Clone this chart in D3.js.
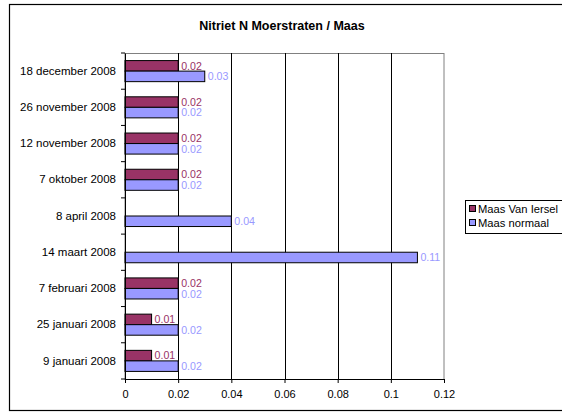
<!DOCTYPE html>
<html><head><meta charset="utf-8">
<script src="https://cdn.jsdelivr.net/npm/d3@7"></script>
<style>body{margin:0;background:#fff}svg{display:block}text{font-family:"Liberation Sans",Arial,sans-serif}</style>
</head><body><svg id="c" width="562" height="412"></svg>
<script>
const categories = ["18 december 2008","26 november 2008","12 november 2008","7 oktober 2008","8 april 2008","14 maart 2008","7 februari 2008","25 januari 2008","9 januari 2008"];
const vanIersel = [0.02,0.02,0.02,0.02,null,null,0.02,0.01,0.01];
const normaal = [0.03,0.02,0.02,0.02,0.04,0.11,0.02,0.02,0.02];
const seriesNames = ["Maas Van Iersel","Maas normaal"];
const xTicks = [0,0.02,0.04,0.06,0.08,0.1,0.12];
const title = "Nitriet N Moerstraten / Maas";

const colors = ["#993366","#9999FF"];
const labelColors = ["#993366","#9999FF"];
const svg = d3.select("#c");
svg.append("rect").attr("x",9.5).attr("y",4.5).attr("width",600).attr("height",406).attr("fill","#fff").attr("stroke","#000").attr("stroke-width",1.2);
svg.append("text").attr("x",282).attr("y",30).attr("text-anchor","middle").attr("font-size",12.5).attr("font-weight","bold").text(title);

const L=125,R=444,T=53,B=379;
const x=d3.scaleLinear().domain([0,0.12]).range([L,R]);
const y=d3.scaleBand().domain(categories).range([T,B]);
const inner=d3.scaleBand().domain([0,1]).range([0,y.bandwidth()]).paddingOuter(0.72).paddingInner(0);

const g=svg.append("g");
g.append("rect").attr("x",L).attr("y",T+0.5).attr("width",R-L).attr("height",B-T).attr("fill","none").attr("stroke","#808080");
g.selectAll(".grid").data(xTicks.slice(1,-1)).join("line").attr("x1",d=>Math.round(x(d))+0.5).attr("x2",d=>Math.round(x(d))+0.5).attr("y1",T).attr("y2",B).attr("stroke","#000").attr("stroke-width",1);

const rows=categories.map((c,i)=>({c,vals:[vanIersel[i],normaal[i]]}));
[0,1].forEach(s=>{
  const dd=rows.filter(r=>r.vals[s]!=null);
  g.selectAll(".bar"+s).data(dd).join("rect").attr("x",x(0)).attr("y",d=>y(d.c)+inner(s)).attr("width",d=>x(d.vals[s])-x(0)).attr("height",inner.bandwidth())
   .attr("fill",colors[s]).attr("stroke","#000").attr("stroke-width",1);
  g.selectAll(".lab"+s).data(dd).join("text").attr("x",d=>x(d.vals[s])+3).attr("y",d=>y(d.c)+inner(s)+inner.bandwidth()/2+3.8)
   .attr("font-size",10.6).attr("fill",labelColors[s]).text(d=>d.vals[s]);
});

const ya=g.append("g").attr("transform",`translate(${L},0)`).call(d3.axisLeft(y).tickSize(0).tickPadding(9));
ya.select(".domain").attr("stroke","#000");
ya.selectAll("text").attr("font-size",11.5).attr("fill","#000").style("font-family","Liberation Sans, Arial, sans-serif");
g.selectAll(".ct").data(d3.range(categories.length+1)).join("line").attr("x1",L-4).attr("x2",L).attr("y1",i=>T+i*y.step()).attr("y2",i=>T+i*y.step()).attr("stroke","#000");
const xa=g.append("g").attr("transform",`translate(0,${B})`).call(d3.axisBottom(x).tickValues(xTicks).tickSize(4).tickPadding(7).tickFormat(d=>d3.format("")(d)));
xa.select(".domain").attr("stroke","#000").attr("d",`M${L},0.5H${R}`);
xa.selectAll("text").attr("font-size",11).attr("fill","#000").style("font-family","Liberation Sans, Arial, sans-serif");

const lg=svg.append("g");
lg.append("rect").attr("x",465.5).attr("y",200.5).attr("width",120).attr("height",33).attr("fill","#fff").attr("stroke","#000");
seriesNames.forEach((n,i)=>{
  lg.append("rect").attr("x",469.5).attr("y",205.5+i*14).attr("width",6).attr("height",6).attr("fill",colors[i]).attr("stroke","#000");
  lg.append("text").attr("x",478).attr("y",212.5+i*14).attr("font-size",11.2).text(n);
});
</script></body></html>
